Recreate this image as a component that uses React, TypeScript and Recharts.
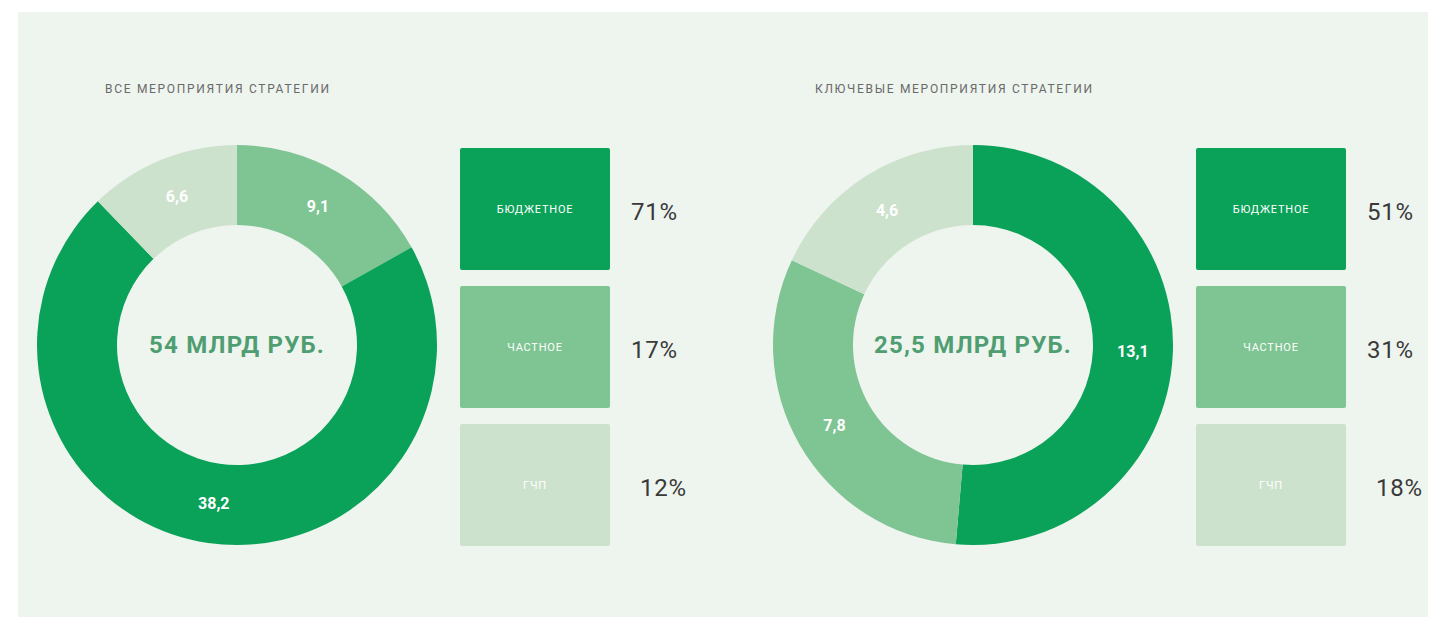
import React from "react";
import { PieChart, Pie, Cell } from "recharts";

// Funding sources, in legend order
const categories = ["БЮДЖЕТНОЕ", "ЧАСТНОЕ", "ГЧП"];
const colors = ["#0aa158", "#7fc493", "#cde2cd"];

// billions of roubles
const allValues = [38.2, 9.1, 6.6];
const keyValues = [13.1, 7.8, 4.6];

// clockwise order from 12 o'clock, as drawn
const allOrder = [1, 0, 2];
const keyOrder = [0, 1, 2];

const titles = ["ВСЕ МЕРОПРИЯТИЯ СТРАТЕГИИ", "КЛЮЧЕВЫЕ МЕРОПРИЯТИЯ СТРАТЕГИИ"];
const totals = ["54 МЛРД РУБ.", "25,5 МЛРД РУБ."];

const FONT = "Roboto, 'DejaVu Sans', sans-serif";
const RAD = Math.PI / 180;

const fmt = (v: number) => v.toFixed(1).replace(".", ",");

const sliceLabel = (props: any) => {
  const { cx, cy, midAngle, innerRadius, outerRadius, value } = props;
  const r = (innerRadius + outerRadius) / 2;
  const x = cx + r * Math.cos(-midAngle * RAD);
  const y = cy + r * Math.sin(-midAngle * RAD);
  return (
    <text
      x={x}
      y={y}
      fill="#ffffff"
      textAnchor="middle"
      dominantBaseline="central"
      fontFamily={FONT}
      fontWeight={700}
      fontSize={16}
    >
      {fmt(value)}
    </text>
  );
};

function Donut({ values, order, left, title, titleLeft, total }: any) {
  const data = order.map((i: number) => ({ name: categories[i], value: values[i], color: colors[i] }));
  const sum = values.reduce((a: number, b: number) => a + b, 0);
  return (
    <div style={{ position: "absolute", left, top: 0, width: 700, height: 619 }}>
      <div
        style={{
          position: "absolute",
          left: titleLeft,
          top: 82,
          fontFamily: FONT,
          fontSize: 12,
          color: "#6a6a6a",
          letterSpacing: 1.7,
          whiteSpace: "nowrap",
        }}
      >
        {title}
      </div>
      <PieChart width={440} height={619} style={{ position: "absolute", left: 0, top: 0 }}>
        <Pie
          data={data}
          dataKey="value"
          cx={214}
          cy={340}
          innerRadius={120}
          outerRadius={200}
          startAngle={90}
          endAngle={-270}
          stroke="none"
          label={sliceLabel}
          labelLine={false}
          isAnimationActive={false}
        >
          {data.map((d: any) => (
            <Cell key={d.name} fill={d.color} />
          ))}
        </Pie>
      </PieChart>
      <div
        style={{
          position: "absolute",
          left: 69,
          width: 300,
          top: 331,
          textAlign: "center",
          fontFamily: FONT,
          fontWeight: 700,
          fontSize: 24,
          letterSpacing: 1.2,
          color: "#4e9e72",
          whiteSpace: "nowrap",
        }}
      >
        {total}
      </div>
      {categories.map((c, i) => (
        <React.Fragment key={c}>
          <div
            style={{
              position: "absolute",
              left: 442,
              top: 148 + i * 138,
              width: 150,
              height: 122,
              background: colors[i],
              borderRadius: 2,
              display: "flex",
              alignItems: "center",
              justifyContent: "center",
              fontFamily: FONT,
              fontSize: 11,
              color: "#ffffff",
              letterSpacing: 0.8,
            }}
          >
            {c}
          </div>
          <div
            style={{
              position: "absolute",
              left: 613 + (i === 2 ? 9 : 0),
              top: 198 + i * 138,
              fontFamily: FONT,
              fontSize: 24,
              letterSpacing: 0.8,
              color: "#3a3a3a",
            }}
          >
            {Math.round((values[i] / sum) * 100)}%
          </div>
        </React.Fragment>
      ))}
    </div>
  );
}

export default function App() {
  return (
    <div style={{ position: "absolute", left: 0, top: 0, width: 1429, height: 619, background: "#ffffff" }}>
      <div style={{ position: "absolute", left: 18, top: 12, width: 1410, height: 605, background: "#eef4ee" }} />
      <Donut values={allValues} order={allOrder} left={18} titleLeft={87} title={titles[0]} total={totals[0]} />
      <Donut values={keyValues} order={keyOrder} left={754} titleLeft={61} title={titles[1]} total={totals[1]} />
    </div>
  );
}
